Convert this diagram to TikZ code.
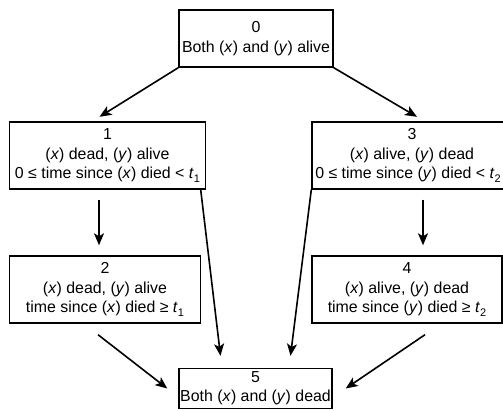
\documentclass[tikz,border=0pt]{standalone}
\usepackage{fontspec}
\setmainfont{Liberation Sans}
\usetikzlibrary{arrows.meta}
\newcommand\subsc[1]{\raisebox{-0.45ex}{\fontsize{11}{11}\selectfont #1}}
\newcommand\xx{(\textit{x})}
\newcommand\yy{(\textit{y})}
\begin{document}
\begin{tikzpicture}[x=1pt,y=-1pt,
  box/.style={draw,line width=1.4pt,inner sep=0pt,align=center,
    font=\fontsize{15.9}{19.3}\selectfont,minimum height=67pt},
  arr/.style={line width=1.6pt,-{Stealth[length=12pt,width=10pt,inset=3pt]}}]
\useasboundingbox (0,0) rectangle (503,411);
\node[box,minimum width=154pt,minimum height=57pt] (b0) at (256,38.5) {0\\Both \xx{} and \yy{} alive};
\node[box,minimum width=196pt] (b1) at (107.5,155.5) {1\\\xx{} dead, \yy{} alive\\0 ≤ time since \xx{} died < \textit{t}\subsc{1}};
\node[box,minimum width=200pt] (b3) at (412,155.5) {3\\\xx{} alive, \yy{} dead\\0 ≤ time since \yy{} died < \textit{t}\subsc{2}\hspace*{8pt}};
\node[box,minimum width=190.5pt] (b2) at (105,289.5) {2\\\xx{} dead, \yy{} alive\\time since \xx{} died ≥ \textit{t}\subsc{1}};
\node[box,minimum width=190pt] (b4) at (407,289.5) {4\\\xx{} alive, \yy{} dead\\time since \yy{} died ≥ \textit{t}\subsc{2}};
\node[box,minimum width=153pt,minimum height=40pt] (b5) at (255.5,388.5) {5\\Both \xx{} and \yy{} dead};
\draw[arr] (b0.south west) -- ([xshift=-8pt,yshift=4.5pt]b1.north);
\draw[arr] (b0.south east) -- ([xshift=5pt,yshift=4.5pt]b3.north);
\draw[arr] ([xshift=-8.5pt,yshift=-10pt]b1.south) -- ([xshift=-6pt,yshift=10pt]b2.north);
\draw[arr] ([xshift=11pt,yshift=-10pt]b3.south) -- ([xshift=16pt,yshift=10pt]b4.north);
\draw[arr] ([xshift=-5.5pt]b1.south east) -- ([xshift=-35pt,yshift=12pt]b5.north);
\draw[arr] (b3.south west) -- ([xshift=35pt,yshift=12pt]b5.north);
\draw[arr] ([xshift=-7pt,yshift=-11pt]b2.south) -- ([xshift=-11pt]b5.west);
\draw[arr] ([xshift=18pt,yshift=-11pt]b4.south) -- ([xshift=13pt]b5.east);
\end{tikzpicture}
\end{document}
